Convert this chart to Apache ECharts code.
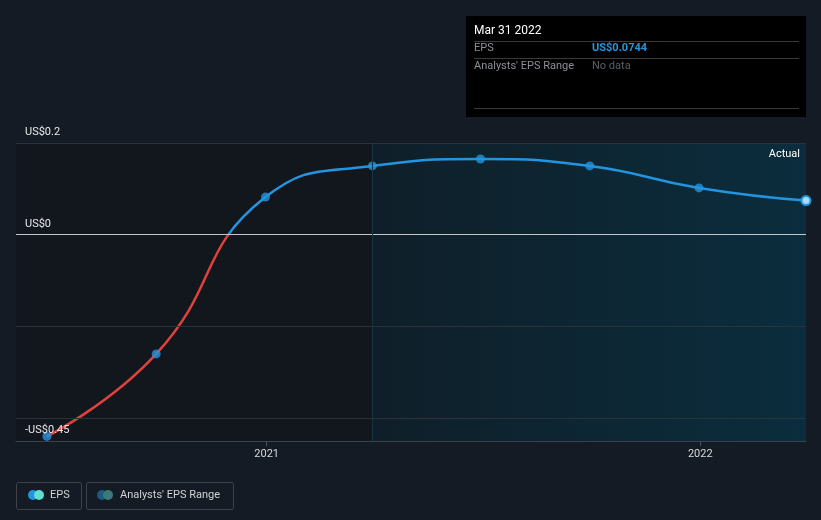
<!DOCTYPE html>
<html>
<head>
<meta charset="utf-8">
<script src="https://cdn.jsdelivr.net/npm/echarts@6/dist/echarts.min.js"></script>
<style>
html,body{margin:0;padding:0;background:#151b24;}
#c{width:821px;height:520px;}
</style>
</head>
<body>
<div id="c"></div>
<script>
// Data
const dates = ['2020-06-30','2020-09-30','2020-12-31','2021-03-31','2021-06-30','2021-09-30','2021-12-31','2022-03-31'];
const epsValues = [-0.44, -0.26, 0.082, 0.15, 0.165, 0.15, 0.102, 0.0744];
const yTickLabels = [-0.45, 0, 0.2];
const gridValues = [0.2, -0.2, -0.4];
const xTickDates = ['2021-01-01','2022-01-01'];
const actualStart = '2021-03-31';
const axisMin = '2020-06-04';
const axisMax = '2022-03-31';
const tooltipDate = 'Mar 31 2022';
const tooltipValue = 'US$0.0744';

const ts = s => new Date(s + 'T00:00:00Z').getTime();
const seriesData = dates.map((d,i)=>[ts(d), epsValues[i]]);

const chart = echarts.init(document.getElementById('c'), null, {renderer:'canvas'});
const font = 'Roboto, "Noto Sans", sans-serif';

const option = {
  backgroundColor: '#151b24',
  animation: false,
  textStyle: {fontFamily: font},
  grid: {left: 16, right: 15, top: 143, bottom: 79},
  xAxis: {
    type: 'value', z: 10,
    min: ts(axisMin), max: ts(axisMax),
    axisLine: {show: true, onZero: false, lineStyle: {color: '#3b414b', width: 1}},
    axisTick: {show: true, customValues: xTickDates.map(ts), length: 5, lineStyle: {color: '#4a5059'}},
    axisLabel: {customValues: xTickDates.map(ts), color: '#d5d7da', fontSize: 11, margin: 8,
      formatter: v => String(new Date(v).getUTCFullYear())},
    splitLine: {show: false}
  },
  yAxis: {
    type: 'value', min: -0.45, max: 0.2, z: 10,
    axisLine: {show: false}, axisTick: {show: false}, splitLine: {show: false},
    axisLabel: {
      customValues: yTickLabels, inside: true, margin: 9,
      showMinLabel: true, showMaxLabel: true,
      verticalAlign: 'bottom', padding: [0,0,5,0],
      color: '#e6e8ea', fontSize: 11,
      formatter: v => (v < 0 ? '-US$' + Math.abs(v) : 'US$' + v)
    }
  },
  visualMap: {
    show: false, type: 'piecewise', dimension: 1, seriesIndex: 0,
    pieces: [{gt: -10, lte: 0, color: '#e0413d'}, {gt: 0, lte: 10, color: '#2394df'}],
    outOfRange: {color: '#2394df'}
  },
  series: [
    {
      type: 'line', data: seriesData, smooth: 0.5, showSymbol: false,
      lineStyle: {width: 2.5}, z: 3,
      markLine: {
        silent: true, symbol: 'none', label: {show: false},
        data: gridValues.map(v => ({yAxis: v, lineStyle: {color: '#2c323b', width: 1, type: 'solid'}}))
          .concat([{yAxis: 0, lineStyle: {color: '#c4c6c9', width: 1, type: 'solid'}},
                   {xAxis: ts(actualStart), lineStyle: {color: '#173442', width: 1, type: 'solid'}}])
      },
      markArea: {
        silent: true,
        label: {show: true, position: 'insideTopRight', distance: 6, color: '#ffffff', fontSize: 11, fontFamily: font},
        data: [
          [{xAxis: ts(axisMin), name: '', itemStyle: {color: '#12161d'}, label: {show: false}}, {xAxis: ts(actualStart)}],
          [{xAxis: ts(actualStart), name: 'Actual',
            itemStyle: {color: {type: 'linear', x: 0, y: 0, x2: 1, y2: 0,
              colorStops: [{offset: 0, color: '#0f1f29'}, {offset: 1, color: '#0b2d3d'}]}}},
           {xAxis: ts(axisMax)}]
        ]
      }
    },
    {
      type: 'scatter', data: seriesData, symbolSize: 9, z: 4,
      itemStyle: {color: '#2394df'},
      markPoint: {
        symbol: 'circle', symbolSize: 9,
        itemStyle: {color: '#a7dcfb', borderColor: '#2394df', borderWidth: 2},
        label: {show: false},
        data: [{coord: seriesData[seriesData.length - 1]}]
      }
    }
  ],
  graphic: [
    // tooltip box
    {type: 'rect', left: 466, top: 16, shape: {width: 340, height: 101}, style: {fill: '#000000'}},
    {type: 'text', left: 474, top: 25, style: {text: tooltipDate, fill: '#ffffff', font: '12px ' + font}},
    {type: 'rect', left: 474, top: 41, shape: {width: 325, height: 1}, style: {fill: '#3a3a3a'}},
    {type: 'text', left: 474, top: 43, style: {text: 'EPS', fill: '#8d9095', font: '11px ' + font}},
    {type: 'text', left: 592, top: 43, style: {text: tooltipValue, fill: '#2394df', font: 'bold 11px ' + font}},
    {type: 'rect', left: 474, top: 58, shape: {width: 325, height: 1}, style: {fill: '#3a3a3a'}},
    {type: 'text', left: 474, top: 61, style: {text: "Analysts' EPS Range", fill: '#8d9095', font: '11px ' + font}},
    {type: 'text', left: 592, top: 61, style: {text: 'No data', fill: '#5c5f63', font: '11px ' + font}},
    {type: 'rect', left: 474, top: 108, shape: {width: 325, height: 1}, style: {fill: '#3a3a3a'}},
    // legend
    {type: 'rect', left: 16, top: 482, shape: {width: 65, height: 27, r: 2}, style: {fill: 'transparent', stroke: '#3d434c', lineWidth: 1}},
    {type: 'circle', shape: {cx: 33, cy: 495, r: 5}, style: {fill: '#2394df'}},
    {type: 'circle', shape: {cx: 39, cy: 495, r: 5}, style: {fill: '#5de0d0'}},
    {type: 'text', left: 50, top: 490, style: {text: 'EPS', fill: '#d0d2d5', font: '11px ' + font}},
    {type: 'rect', left: 86, top: 482, shape: {width: 147, height: 27, r: 2}, style: {fill: 'transparent', stroke: '#3d434c', lineWidth: 1}},
    {type: 'circle', shape: {cx: 102, cy: 495, r: 5}, style: {fill: '#1e5a80'}},
    {type: 'circle', shape: {cx: 108, cy: 495, r: 5}, style: {fill: '#3a7a78'}},
    {type: 'text', left: 120, top: 490, style: {text: "Analysts' EPS Range", fill: '#d0d2d5', font: '11px ' + font}}
  ]
};
chart.setOption(option);
</script>
</body>
</html>
